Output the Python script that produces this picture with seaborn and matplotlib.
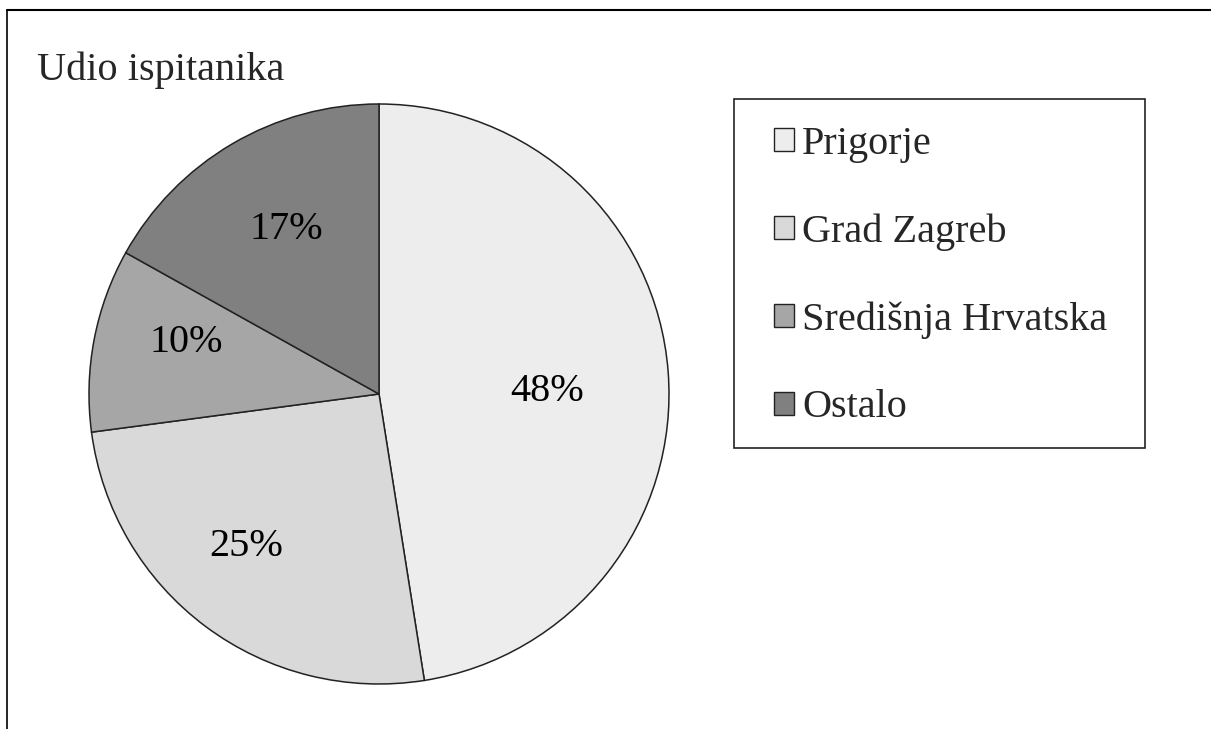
import numpy as np
import matplotlib.pyplot as plt
import seaborn as sns
from matplotlib.lines import Line2D
from matplotlib.patches import Rectangle

# Udio ispitanika po regiji (%)
regions = ["Prigorje", "Grad Zagreb", "Središnja Hrvatska", "Ostalo"]
shares = [47.5, 25.4, 10.2, 16.9]
colors = ["#ededed", "#d9d9d9", "#a6a6a6", "#808080"]
title = "Udio ispitanika"

# label placement ("best fit" look): radius and angular nudge per slice
label_radius = [0.58, 0.69, 0.69, 0.66]
label_nudge = [-2.6, -4.8, -5.0, -1.3]

sns.set_theme(style="white")
plt.rcParams["font.family"] = ["Liberation Serif", "DejaVu Serif"]

W, H = 1211, 729
FS = 29
fig = plt.figure(figsize=(W / 100, H / 100), dpi=100)
fig.patch.set_facecolor("white")

# pie axes: centre (379, 393) px, radius 290 px
ax = fig.add_axes([89 / W, (H - 684) / H, 580 / W, 580 / H])
wedges, texts, autotexts = ax.pie(
    shares,
    colors=colors,
    startangle=90,
    counterclock=False,
    autopct=lambda p: f"{p + 1e-6:.0f}%",
    wedgeprops=dict(edgecolor="#222222", linewidth=1.1),
    textprops=dict(fontsize=FS, color="black"),
)
for w, t, r, d in zip(wedges, autotexts, label_radius, label_nudge):
    ang = np.deg2rad((w.theta1 + w.theta2) / 2 + d)
    t.set_position((r * np.cos(ang), r * np.sin(ang) - 0.01))
ax.set_xlim(-1, 1)
ax.set_ylim(-1, 1)
ax.set_aspect("equal")
ax.axis("off")

fig.text(37 / W, 1 - 80 / H, title, fontsize=FS, va="baseline", ha="left")

leg = ax.legend(
    wedges,
    regions,
    loc="center left",
    bbox_to_anchor=(774 / W, 1 - 276 / H),
    bbox_transform=fig.transFigure,
    frameon=False,
    fontsize=FS,
    borderpad=0,
    borderaxespad=0,
    handlelength=0.5,
    handleheight=0.5,
    handletextpad=0.2,
    labelspacing=1.255,
)
for h in leg.legend_handles:
    h.set_edgecolor("#222222")
    h.set_linewidth(1.0)

# legend box
fig.add_artist(Rectangle((734 / W, 1 - 448 / H), (1145 - 734) / W, (448 - 99) / H,
                         transform=fig.transFigure, fill=False,
                         edgecolor="#222222", linewidth=1.2))

# outer frame (top and left only)
fig.add_artist(Line2D([7 / W, 1], [1 - 10 / H, 1 - 10 / H],
                      transform=fig.transFigure, color="black", linewidth=1.5))
fig.add_artist(Line2D([7 / W, 7 / W], [0, 1 - 10 / H],
                      transform=fig.transFigure, color="black", linewidth=1.2))

fig.savefig("out.png", dpi=100)
